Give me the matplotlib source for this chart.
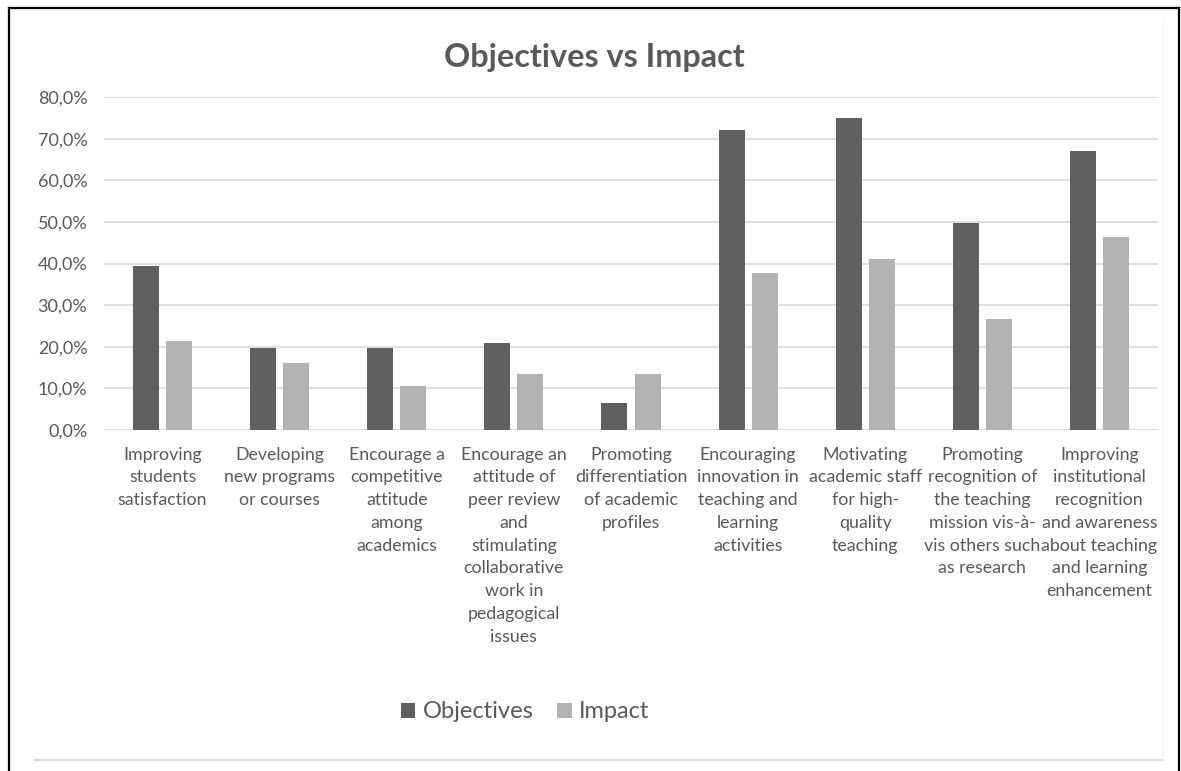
import numpy as np
import matplotlib
matplotlib.use("Agg")
import matplotlib.pyplot as plt
from matplotlib.lines import Line2D

# --- data ---
categories = [
    "Improving\nstudents\nsatisfaction",
    "Developing\nnew programs\nor courses",
    "Encourage a\ncompetitive\nattitude\namong\nacademics",
    "Encourage an\nattitude of\npeer review\nand\nstimulating\ncollaborative\nwork in\npedagogical\nissues",
    "Promoting\ndifferentiation\nof academic\nprofiles",
    "Encouraging\ninnovation in\nteaching and\nlearning\nactivities",
    "Motivating\nacademic staff\nfor high-\nquality\nteaching",
    "Promoting\nrecognition of\nthe teaching\nmission vis-à-\nvis others such\nas research",
    "Improving\ninstitutional\nrecognition\nand awareness\nabout teaching\nand learning\nenhancement",
]
objectives = [39.3, 19.7, 19.7, 21.0, 6.5, 72.1, 74.9, 49.8, 67.0]
impact = [21.3, 16.0, 10.6, 13.4, 13.4, 37.7, 41.0, 26.6, 46.4]
yticks = [0, 10, 20, 30, 40, 50, 60, 70, 80]

TXT = "#595959"
DARK = "#5f5f5f"
LIGHT = "#b2b2b2"
GRID = "#d9d9d9"

plt.rcParams["font.family"] = ["Lato", "DejaVu Sans"]

W, H = 1181, 771
fig = plt.figure(figsize=(W / 100, H / 100), dpi=100)

# plot area in pixels: x 104..1158, y 97..430
left, right, top, bottom = 104, 1158, 97, 430
ax = fig.add_axes([left / W, 1 - bottom / H, (right - left) / W, (bottom - top) / H])

x = np.arange(len(categories))
bw = 0.222
off = 0.141
b1 = ax.bar(x - off, objectives, width=bw, color=DARK, label="Objectives", zorder=3)
b2 = ax.bar(x + off, impact, width=bw, color=LIGHT, label="Impact", zorder=3)

ax.set_xlim(-0.5, len(categories) - 0.5)
ax.set_ylim(0, 80)
ax.set_yticks(yticks)
ax.set_yticklabels([f"{v:.1f}%".replace(".", ",") for v in yticks])
ax.set_xticks(x)
ax.set_xticklabels(categories, linespacing=1.52)
ax.grid(axis="y", color=GRID, lw=1.2, zorder=0)
ax.tick_params(axis="y", length=0, pad=12, labelsize=13, labelcolor=TXT)
ax.tick_params(axis="x", length=0, pad=12, labelsize=12.8, labelcolor=TXT)
for s in ax.spines.values():
    s.set_visible(False)

fig.text(594 / W, 1 - 58 / H, "Objectives vs Impact", ha="center", va="center",
         fontsize=23.3, fontweight="bold", color=TXT)

fig.legend(handles=[b1, b2], loc="center", bbox_to_anchor=(525 / W, 1 - 712 / H),
           ncol=2, frameon=False, fontsize=17, labelcolor=TXT,
           handlelength=0.62, handleheight=0.62, handletextpad=0.3,
           columnspacing=1.0)

# outer frame (black, no bottom) and faint inner chart border
fig.add_artist(Line2D([9 / W, 9 / W], [0, 1 - 8 / H], color="black", lw=1.6))
fig.add_artist(Line2D([9 / W, 1179 / W], [1 - 8 / H, 1 - 8 / H], color="black", lw=1.6))
fig.add_artist(Line2D([1179 / W, 1179 / W], [0, 1 - 8 / H], color="black", lw=1.6))
fig.add_artist(Line2D([35 / W, 1163 / W], [1 - 760 / H, 1 - 760 / H], color=GRID, lw=1.4))
fig.add_artist(Line2D([1163 / W, 1163 / W], [1 - 760 / H, 1 - 20 / H], color="#f3f3f3", lw=0.8))

fig.savefig("out.png", dpi=100)
